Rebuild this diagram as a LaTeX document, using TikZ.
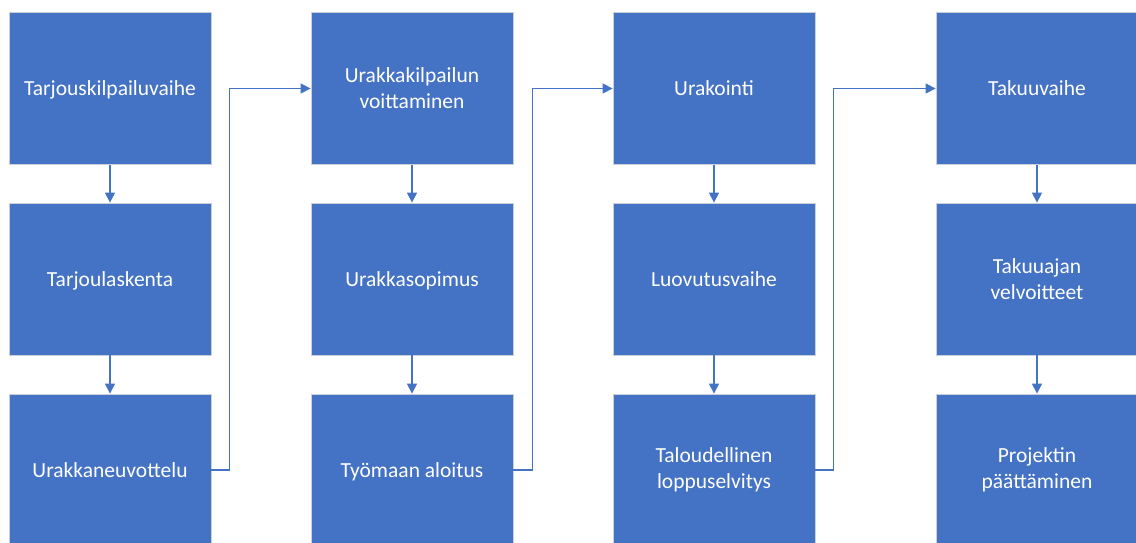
\documentclass[tikz,border=0pt]{standalone}
\usepackage{fontspec}
\setmainfont{Carlito}
\usetikzlibrary{arrows.meta}
\definecolor{accent}{HTML}{4472C4}
\definecolor{rim}{HTML}{C9D0DC}
\begin{document}
\begin{tikzpicture}[x=1pt,y=-1pt,
  phase/.style={rectangle, minimum width=202pt, minimum height=152pt,
    fill=accent, draw=rim, line width=0.8pt, text=white, align=center,
    inner sep=0pt, font=\fontsize{21.5}{26}\selectfont},
  oneline/.style={phase, text height=18pt, text depth=4pt},
  flow/.style={draw=accent, line width=1.4pt,
    -{Triangle[length=10pt,width=10pt]}}]
\useasboundingbox (0,0) rectangle (1136,543);

% column 1
\node[oneline] (t1) at (110,88.5) {Tarjouskilpailuvaihe};
\node[oneline] (t2) at (110,279) {Tarjoulaskenta};
\node[oneline] (t3) at (110,470) {Urakkaneuvottelu};
% column 2
\node[phase] (u1) at (412,88.5) {Urakkakilpailun\\voittaminen};
\node[oneline] (u2) at (412,279) {Urakkasopimus};
\node[oneline] (u3) at (412,470) {Työmaan aloitus};
% column 3
\node[oneline] (r1) at (714,88.5) {Urakointi};
\node[oneline] (r2) at (714,279) {Luovutusvaihe};
\node[phase] (r3) at (714,470) {Taloudellinen\\loppuselvitys};
% column 4
\node[oneline] (k1) at (1037,88.5) {Takuuvaihe};
\node[phase] (k2) at (1037,279) {Takuuajan\\velvoitteet};
\node[phase] (k3) at (1037,470) {Projektin\\päättäminen};

% steps within each column
\foreach \a/\b in {t1/t2,t2/t3,u1/u2,u2/u3,r1/r2,r2/r3,k1/k2,k2/k3}
  \draw[flow] (\a.south) -- (\b.north);

% links from the foot of one column to the head of the next
\draw[flow] (t3.east) -- ++(18,0) |- (u1.west);
\draw[flow] (u3.east) -- ++(19,0) |- (r1.west);
\draw[flow] (r3.east) -- ++(18,0) |- (k1.west);
\end{tikzpicture}
\end{document}
